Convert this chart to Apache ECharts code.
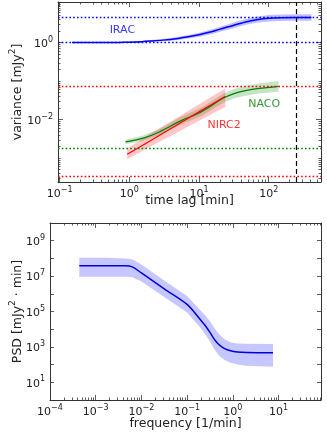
<!DOCTYPE html>
<html><head><meta charset="utf-8">
<script src="https://cdn.jsdelivr.net/npm/echarts@6/dist/echarts.min.js"></script>
<style>html,body{margin:0;padding:0;background:#fff}#c{width:327px;height:439px}</style>
</head><body><div id="c"></div>
<script>
// ---------- Top panel: variance vs time lag ----------
const iracLag = [0.15,0.25,0.4,0.7,1.0,1.5,2,3,5,7,10,15,20,30,45,70,100,150,250,410];
const iracVar = [1.0,1.0,1.0,1.012,1.028,1.059,1.096,1.161,1.288,1.413,1.603,1.905,2.239,2.754,3.388,3.981,4.285,4.416,4.467,4.467];
const iracHi  = [1.023,1.023,1.023,1.040,1.064,1.109,1.161,1.245,1.413,1.567,1.799,2.188,2.600,3.236,4.027,4.786,5.212,5.370,5.433,5.433];
const iracLo  = [0.977,0.977,0.977,0.984,0.993,1.012,1.035,1.084,1.175,1.274,1.429,1.660,1.928,2.344,2.851,3.311,3.524,3.631,3.673,3.673];

const nircLag = [0.93,2,5,10,23.8];
const nircVar = [0.00126,0.00284,0.00759,0.0159,0.0403];
const nircHi  = [0.00178,0.00427,0.01175,0.0251,0.0646];
const nircLo  = [0.000933,0.00200,0.00479,0.00933,0.0214];

const nacoLag = [0.88,1.58,2.69,5.62,10.7,22.4,30.9,42.7,72.4,138];
const nacoVar = [0.00263,0.00331,0.00479,0.00955,0.01585,0.0363,0.0468,0.0550,0.0646,0.0733];
const nacoHi  = [0.00302,0.00389,0.00575,0.0120,0.0204,0.0479,0.0617,0.0741,0.0871,0.1012];
const nacoLo  = [0.00229,0.00282,0.00398,0.00759,0.0123,0.0275,0.0355,0.0407,0.0479,0.0531];

const hLevels = [4.47, 1.0, 0.0746, 0.00177, 0.000343];   // dotted reference levels
const vLag = 250;                                          // dashed vertical lag
const topXLabels = [0.1, 1, 10, 100];
const topYLabels = [1e-2, 1];

// ---------- Bottom panel: PSD ----------
const psdFreq = [4.37e-4,1.58e-3,4.47e-3,6.31e-3,0.01,0.0316,0.1,0.2,0.251,0.316,0.389,0.501,0.646,0.891,1.259,1.995,7.59];
const psdVal  = [3.89e7,3.89e7,3.89e7,3.31e7,1.51e7,1.91e6,2.51e5,3.16e4,1.58e4,6.61e3,2.82e3,1.32e3,832,603,513,479,468];
const psdHi   = [1.10e8,1.10e8,1.0e8,8.91e7,4.47e7,5.62e6,7.59e5,1.12e5,6.03e4,2.82e4,1.26e4,5.25e3,2.82e3,1.86e3,1.58e3,1.51e3,1.48e3];
const psdLo   = [9.33e6,9.33e6,9.33e6,8.51e6,5.01e6,6.61e5,8.91e4,1.12e4,5.01e3,2.0e3,759,316,191,126,100,85.1,75.9];
const botXLabels = [1e-4,1e-3,1e-2,1e-1,1,10];
const botYLabels = [10,1e3,1e5,1e7,1e9];

// ---------- helpers (axes are value axes on log10 of the data) ----------
const L = Math.log10;
const FONT = 'DejaVu Sans';
const LC = '#333';
const TXT = '#222';
const BLUE = '#0000ff', GREEN = '#008000', RED = '#ff0000';

function decades(lo, hi){ const o=[]; for(let e=Math.ceil(lo-1e-9); e<=Math.floor(hi+1e-9); e++) o.push(e); return o; }
function minors(lo, hi){ const o=[]; for(let e=Math.floor(lo)-1; e<=Math.ceil(hi); e++) for(let m=2;m<=9;m++){ const v=e+L(m); if(v>=lo&&v<=hi) o.push(v);} return o; }
function pow10(v){ const e=Math.round(v); return '{b|10}{s|'+(e<0?'\u2212'+(-e):String(e))+'}'; }
const rich = { b:{fontFamily:FONT,fontSize:11,color:TXT,lineHeight:14,verticalAlign:'bottom'},
               s:{fontFamily:FONT,fontSize:8,color:TXT,lineHeight:14,verticalAlign:'top'} };
const nameRich = { n:{fontFamily:FONT,fontSize:12.5,color:TXT,lineHeight:16,verticalAlign:'bottom'},
                   s:{fontFamily:FONT,fontSize:9,color:TXT,lineHeight:16,verticalAlign:'top'} };

function ax(dim, gi, pos, ext, ticks, len, labels, showLine){
  const a = {
    type:'value', gridIndex:gi, position:pos, min:ext[0], max:ext[1],
    axisLine:{show: !!showLine, onZero:false, lineStyle:{color:LC,width:1}},
    splitLine:{show:false}, minorTick:{show:false},
    axisTick:{show:true, inside:true, length:len, customValues:ticks, lineStyle:{color:LC,width:0.8}},
    axisLabel:{show:false}
  };
  if (labels && labels.length){
    a.axisLabel = {show:true, customValues:labels.map(L), formatter:pow10, rich:rich,
                   margin: dim==='x'?4:5, color:TXT, fontFamily:FONT, fontSize:11};
  }
  return a;
}

const TX = [-1.025, 2.75], TY = [-3.62, 1.055];
const BX = [-4, 1.93], BY = [0, 10];

const xAxes = [
  Object.assign(ax('x',0,'bottom',TX,decades(TX[0],TX[1]),5,topXLabels,true),
    {name:'time lag [min]', nameLocation:'middle', nameGap:12, nameMoveOverlap:false,
     nameTextStyle:{fontFamily:FONT,fontSize:12.5,color:TXT}}),
  ax('x',0,'bottom',TX,minors(TX[0],TX[1]),2.5,null,false),
  ax('x',0,'top',TX,decades(TX[0],TX[1]),5,null,true),
  ax('x',0,'top',TX,minors(TX[0],TX[1]),2.5,null,false),
  Object.assign(ax('x',1,'bottom',BX,decades(BX[0],BX[1]),5,botXLabels,true),
    {name:'frequency [1/min]', nameLocation:'middle', nameGap:17, nameMoveOverlap:false,
     nameTextStyle:{fontFamily:FONT,fontSize:12.5,color:TXT}}),
  ax('x',1,'bottom',BX,minors(BX[0],BX[1]),2.5,null,false),
  ax('x',1,'top',BX,decades(BX[0],BX[1]),5,null,true),
  ax('x',1,'top',BX,minors(BX[0],BX[1]),2.5,null,false)
];
const topYMinor = minors(TY[0],TY[1]).concat([-3,-1,1]);
const yAxes = [
  Object.assign(ax('y',0,'left',TY,topYLabels.map(L),5,topYLabels,true),
    {name:'{n|variance [mJy}{s|2}{n|]}', nameLocation:'middle', nameGap:34, nameMoveOverlap:false,
     nameTextStyle:{rich:nameRich}}),
  ax('y',0,'left',TY,topYMinor,2.5,null,false),
  ax('y',0,'right',TY,topYLabels.map(L),5,null,true),
  ax('y',0,'right',TY,topYMinor,2.5,null,false),
  Object.assign(ax('y',1,'left',BY,decades(BY[0],BY[1]),4,botYLabels,true),
    {name:'{n|PSD [mJy}{s|2}{n| \u00b7 min]}', nameLocation:'middle', nameGap:26, nameMoveOverlap:false,
     nameTextStyle:{rich:nameRich}}),
  ax('y',1,'left',BY,[],2.5,null,false),
  ax('y',1,'right',BY,decades(BY[0],BY[1]),4,null,true),
  ax('y',1,'right',BY,[],2.5,null,false)
];

function band(xs, lo, hi, color, xi, yi){
  return { type:'custom', xAxisIndex:xi, yAxisIndex:yi, silent:true, z:1,
    data: xs.map((x,i)=>[L(x), L(lo[i]), L(hi[i])]), encode:{x:0, y:[1,2]},
    renderItem(params, api){
      if (params.dataIndex !== 0) return null;
      const pts = [];
      for (let i=0;i<xs.length;i++) pts.push(api.coord([L(xs[i]), L(hi[i])]));
      for (let i=xs.length-1;i>=0;i--) pts.push(api.coord([L(xs[i]), L(lo[i])]));
      return {type:'polygon', shape:{points:pts}, style:{fill:color, stroke:null}};
    } };
}
function line(xs, ys, color, w, xi, yi, smooth){
  return { type:'line', xAxisIndex:xi, yAxisIndex:yi, data: xs.map((x,i)=>[L(x), L(ys[i])]),
    symbol:'none', showSymbol:false, smooth:smooth, z:3, silent:true,
    lineStyle:{color:color, width:w} };
}
function note(x, y, text, color){
  return { type:'scatter', xAxisIndex:0, yAxisIndex:0, data:[[L(x),L(y)]], symbol:'circle', symbolSize:1, z:6, silent:true,
    itemStyle:{color:'rgba(0,0,0,0)'},
    label:{show:true, position:'inside', formatter:text, color:color, fontFamily:FONT, fontSize:11} };
}

const hColors = [BLUE, BLUE, RED, GREEN, RED];
const irac = line(iracLag, iracVar, BLUE, 1.5, 0, 0, 0.3);
irac.markLine = { silent:true, symbol:'none', animation:false, precision:10, label:{show:false},
  lineStyle:{type:[1.6,2.2], width:1.3},
  data: hLevels.map((v,i)=>({yAxis:L(v), lineStyle:{color:hColors[i], type:[1.6,2.2], width:1.3}}))
        .concat([{xAxis:L(vLag), lineStyle:{color:'#000', type:[5,3], width:1.2}}]) };

const option = {
  animation:false,
  backgroundColor:'#fff',
  grid:[ {left:48, right:6, top:2, bottom:257},
         {left:48, right:6, top:223, bottom:39} ],
  xAxis: xAxes,
  yAxis: yAxes,
  series:[
    band(iracLag, iracLo, iracHi, 'rgba(0,0,255,0.25)', 0, 0),
    band(nacoLag, nacoLo, nacoHi, 'rgba(0,128,0,0.22)', 0, 0),
    band(nircLag, nircLo, nircHi, 'rgba(255,0,0,0.22)', 0, 0),
    irac,
    line(nacoLag, nacoVar, GREEN, 1.2, 0, 0, 0.3),
    line(nircLag, nircVar, RED, 1.2, 0, 0, 0.2),
    note(0.792, 2.09, 'IRAC', BLUE),
    note(86.1, 0.025, 'NACO', GREEN),
    note(22.9, 0.00711, 'NIRC2', RED),
    band(psdFreq, psdLo, psdHi, 'rgba(0,0,255,0.22)', 4, 4),
    line(psdFreq, psdVal, '#0000dd', 1.5, 4, 4, 0.3)
  ]
};
echarts.init(document.getElementById('c'), null, {renderer:'canvas'}).setOption(option);
</script></body></html>
